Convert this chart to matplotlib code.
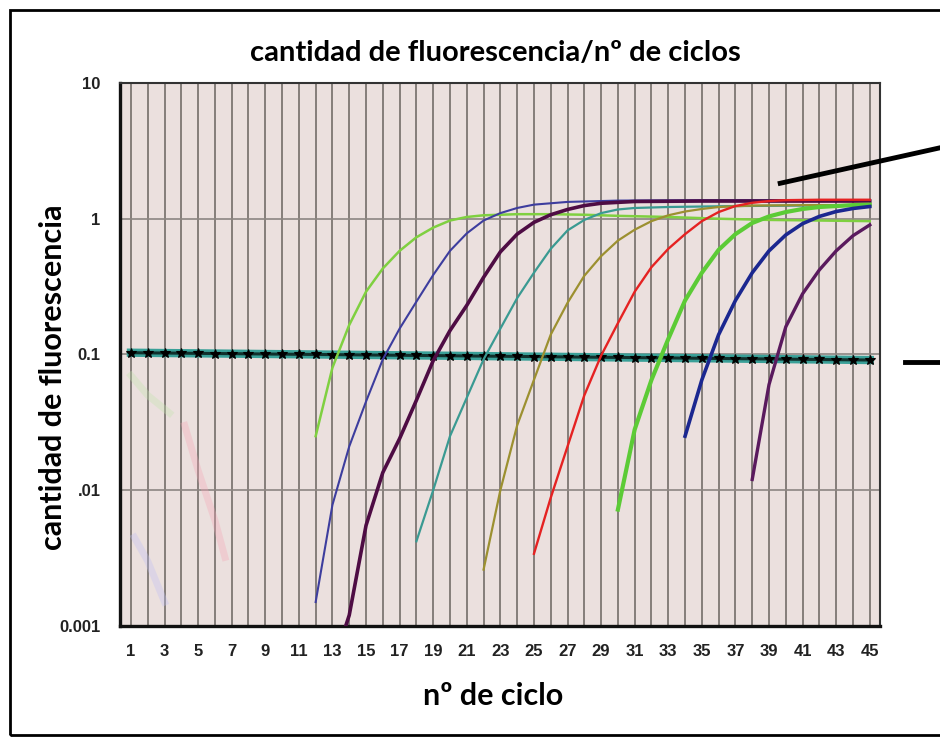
import matplotlib
matplotlib.use("Agg")
import matplotlib.pyplot as plt
from matplotlib.lines import Line2D
from matplotlib.patches import Rectangle
import numpy as np

# ciclos y valores (escala log)
c_green1 = [12, 13, 14, 15, 16, 17, 18, 19, 20, 21, 22, 23, 24, 26, 28, 30, 33, 36, 39, 42, 45]
v_green1 = [0.025, 0.08, 0.165, 0.29, 0.43, 0.58, 0.73, 0.86, 0.97, 1.03, 1.06, 1.07, 1.08,
            1.08, 1.07, 1.05, 1.03, 1.0, 0.98, 0.97, 0.96]

c_blue1 = [12, 13, 14, 15, 16, 17, 18, 19, 20, 21, 22, 23, 24, 25, 27, 30, 35, 40, 45]
v_blue1 = [0.0015, 0.0078, 0.021, 0.045, 0.092, 0.155, 0.245, 0.385, 0.58, 0.78, 0.97, 1.1,
           1.2, 1.27, 1.33, 1.36, 1.37, 1.37, 1.37]

c_purple1 = [13, 14, 15, 16, 17, 18, 19, 20, 21, 22, 23, 24, 25, 26, 27, 28, 29, 31, 35, 40, 45]
v_purple1 = [0.0005, 0.0012, 0.0055, 0.0135, 0.024, 0.046, 0.09, 0.15, 0.23, 0.37, 0.57,
             0.77, 0.94, 1.07, 1.17, 1.25, 1.3, 1.34, 1.35, 1.35, 1.35]

c_teal = [18, 19, 20, 21, 22, 23, 24, 25, 26, 27, 28, 29, 30, 31, 33, 37, 41, 45]
v_teal = [0.0042, 0.010, 0.025, 0.048, 0.092, 0.155, 0.26, 0.40, 0.60, 0.82, 0.98, 1.10,
          1.17, 1.2, 1.22, 1.24, 1.25, 1.25]

c_olive = [22, 23, 24, 25, 26, 27, 28, 29, 30, 31, 32, 33, 34, 35, 36, 38, 41, 45]
v_olive = [0.0026, 0.010, 0.030, 0.065, 0.14, 0.24, 0.38, 0.53, 0.69, 0.83, 0.96, 1.06,
           1.13, 1.18, 1.22, 1.25, 1.26, 1.26]

c_red = [25, 26, 27, 28, 29, 30, 31, 32, 33, 34, 35, 36, 37, 38, 39, 40, 42, 45]
v_red = [0.0034, 0.0088, 0.021, 0.05, 0.098, 0.17, 0.29, 0.44, 0.60, 0.77, 0.96, 1.12,
         1.24, 1.31, 1.35, 1.37, 1.38, 1.38]

c_green2 = [30, 31, 32, 33, 34, 35, 36, 37, 38, 39, 40, 41, 42, 43, 44, 45]
v_green2 = [0.0072, 0.028, 0.065, 0.13, 0.25, 0.40, 0.59, 0.77, 0.93, 1.04, 1.12, 1.18,
            1.22, 1.24, 1.26, 1.27]

c_navy = [34, 35, 36, 37, 38, 39, 40, 41, 42, 43, 44, 45]
v_navy = [0.025, 0.065, 0.14, 0.25, 0.40, 0.58, 0.76, 0.92, 1.04, 1.13, 1.19, 1.23]

c_purple2 = [38, 39, 40, 41, 42, 43, 44, 45]
v_purple2 = [0.012, 0.06, 0.16, 0.28, 0.42, 0.58, 0.75, 0.9]

# restos de curvas muy tenues (ruido de fondo)
c_ghost_pink = [4.2, 5, 6, 6.6]
v_ghost_pink = [0.03, 0.014, 0.006, 0.0032]
c_ghost_blue = [1.2, 2, 3]
v_ghost_blue = [0.0045, 0.003, 0.0015]
c_ghost_green = [1, 2, 3.3]
v_ghost_green = [0.07, 0.05, 0.037]

# umbral
c_thr = list(range(1, 46))
v_thr = list(np.linspace(0.103, 0.091, 45))

yticks = [0.001, 0.01, 0.1, 1, 10]
ytick_labels = ["0.001", ".01", "0.1", "1", "10"]
xticks = list(range(1, 46, 2))

fig = plt.figure(figsize=(9.4, 7.39), dpi=100)
ax = fig.add_axes([0.1277, 0.153, 0.8083, 0.7347])
ax.set_facecolor("#ebe0de")
ax.set_yscale("log")
ax.set_ylim(0.001, 10)
ax.set_xlim(0.35, 45.6)

# rejilla
for c in range(1, 46):
    ax.axvline(c, color="#7d7672", lw=1.3, zorder=1)
for y in yticks[1:-1]:
    ax.axhline(y, color="#8c8582", lw=1.2, zorder=1)

ghost = [(c_ghost_pink, v_ghost_pink, "#f4a8b8"),
         (c_ghost_blue, v_ghost_blue, "#c0c0f4"),
         (c_ghost_green, v_ghost_green, "#c4e4b0")]
for cx, vy, col in ghost:
    ax.plot(cx, vy, color=col, lw=5, alpha=0.35, zorder=2)

# umbral
ax.plot(c_thr, v_thr, color="#3aa098", lw=6, zorder=3)
ax.plot(c_thr, v_thr, color="#10302c", lw=2.2, marker="*", ms=7, mew=0.8,
        mec="black", mfc="black", zorder=4)

curves = [
    (c_green1, v_green1, "#7fd040", 1.8),
    (c_blue1, v_blue1, "#3d3d9e", 1.5),
    (c_purple1, v_purple1, "#4e0c44", 2.6),
    (c_teal, v_teal, "#3a9a92", 1.6),
    (c_olive, v_olive, "#9c9030", 1.6),
    (c_red, v_red, "#e52222", 1.7),
    (c_green2, v_green2, "#5ccb36", 3.0),
    (c_navy, v_navy, "#1b2790", 2.6),
    (c_purple2, v_purple2, "#5a1a5e", 2.4),
]
for cx, vy, col, lw in curves:
    ax.plot(cx, vy, color=col, lw=lw, zorder=5)

ax.set_yticks(yticks)
ax.set_yticklabels(ytick_labels)
ax.yaxis.set_minor_locator(matplotlib.ticker.NullLocator())
ax.set_xticks(xticks)
ax.tick_params(axis="x", length=0, labelsize=12, labelcolor="#222222", pad=13)
ax.tick_params(axis="y", length=0, labelsize=12, labelcolor="#222222", pad=14)
for lab in ax.get_xticklabels() + ax.get_yticklabels():
    lab.set_family("Liberation Sans")
    lab.set_fontweight("bold")

for side in ["left", "bottom"]:
    ax.spines[side].set_linewidth(2.4)
    ax.spines[side].set_color("#111111")
for side in ["top", "right"]:
    ax.spines[side].set_linewidth(1.5)
    ax.spines[side].set_color("#333333")

fig.text(0.527, 0.928, "cantidad de fluorescencia/nº de ciclos", ha="center", va="center",
         family="Lato", fontweight="bold", fontsize=21)
fig.text(0.525, 0.058, "nº de ciclo", ha="center", va="center",
         family="Lato", fontweight="bold", fontsize=22)
fig.text(0.056, 0.49, "cantidad de fluorescencia", ha="center", va="center", rotation=90,
         family="Lato", fontweight="bold", fontsize=22)

# marco y flechas de anotacion
fig.add_artist(Rectangle((0.011, 0.006), 1.2, 0.981, transform=fig.transFigure,
                         fill=False, edgecolor="black", lw=2))
fig.add_artist(Line2D([0.83, 1.0], [0.752, 0.8], transform=fig.transFigure,
                      color="black", lw=3.5))
fig.add_artist(Line2D([0.963, 1.0], [0.51, 0.51], transform=fig.transFigure,
                      color="black", lw=3.5))

fig.savefig("out.png", dpi=100)
